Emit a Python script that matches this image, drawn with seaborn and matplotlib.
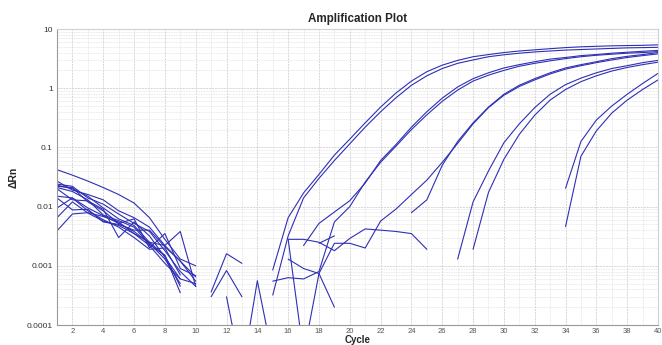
import numpy as np
import pandas as pd
import matplotlib
matplotlib.use("Agg")
import matplotlib.pyplot as plt
import seaborn as sns
from matplotlib.ticker import MultipleLocator, LogLocator, NullFormatter

nan = np.nan

# qPCR amplification data: delta Rn per cycle (1..40), nan where the value was negative
cycles = list(range(1, 41))

a1 = [0.042, 0.034, 0.027, 0.021, 0.016, 0.0115, 0.0065, 0.0028, 0.0013, 0.001] + [nan] * 4 + \
     [0.00085, 0.0065, 0.017, 0.035, 0.074, 0.138, 0.26, 0.48, 0.83, 1.32, 1.9, 2.45, 2.95,
      3.4, 3.7, 4.0, 4.25, 4.45, 4.65, 4.85, 5.0, 5.1, 5.2, 5.25, 5.3, 5.4]
a2 = [0.027, 0.019, 0.016, 0.013, 0.0085, 0.0065, 0.0045, 0.0022, 0.0012, 0.00065] + [nan] * 4 + \
     [0.00032, 0.0032, 0.014, 0.030, 0.060, 0.115, 0.22, 0.40, 0.69, 1.12, 1.62, 2.15, 2.63,
      3.0, 3.4, 3.67, 3.9, 4.1, 4.25, 4.4, 4.5, 4.6, 4.7, 4.8, 4.85, 4.9]
b1 = [0.024, 0.022, 0.014, 0.011, 0.0075, 0.0052, 0.0038, 0.0018, 0.0008, 0.00045] + [nan] * 6 + \
     [0.0022, 0.0052, 0.0081, 0.0126, 0.025, 0.06, 0.112, 0.22, 0.4, 0.68, 1.05, 1.45, 1.82,
      2.2, 2.5, 2.8, 3.1, 3.3, 3.55, 3.7, 3.9, 4.05, 4.2, 4.35]
b2 = [0.023, 0.020, 0.015, 0.0095, 0.0062, 0.0048, 0.0025, 0.0022, 0.0038, 0.00045] + [nan] * 4 + \
     [0.00055, 0.00063, 0.0006, 0.0008, 0.0055, 0.01, 0.026, 0.056, 0.105, 0.2, 0.355, 0.6, 0.93,
      1.32, 1.66, 2.0, 2.35, 2.63, 2.9, 3.16, 3.4, 3.6, 3.75, 3.9, 4.0, 4.15]
c1 = [0.015, 0.014, 0.0095, 0.0070, 0.0052, 0.0062, 0.0020, 0.0035, 0.0009, 0.00068] + [nan] * 5 + \
     [0.0028, 3.2e-5, 0.00074, 0.0024, 0.0024, 0.002, 0.0057, 0.0091, 0.016, 0.028, 0.056, 0.117,
      0.25, 0.47, 0.76, 1.07, 1.38, 1.74, 2.1, 2.4, 2.7, 3.0, 3.3, 3.55, 3.8]
c2 = [0.014, 0.0088, 0.0090, 0.0055, 0.0050, 0.0040, 0.0040, 0.0021, 0.0012, 0.00055] + [nan] * 7 + \
     [0.0024, 0.0032] + [nan] * 4 + \
     [0.0079, 0.013, 0.05, 0.126, 0.26, 0.48, 0.79, 1.12, 1.45, 1.82, 2.2, 2.5, 2.8, 3.16, 3.45, 3.7, 4.0]
d1 = [0.022, 0.021, 0.012, 0.0085, 0.0052, 0.0038, 0.0024, 0.0013, 0.0005, nan] + \
     [0.00036, 0.0016, 0.0011] + [nan] * 13 + \
     [0.0013, 0.012, 0.04, 0.12, 0.25, 0.47, 0.79, 1.15, 1.48, 1.82, 2.15, 2.4, 2.7, 2.95]
d2 = [0.021, 0.018, 0.013, 0.0072, 0.0058, 0.0045, 0.0023, 0.0015, 0.00035, nan] + \
     [0.0003, 0.00083, 0.0003] + [nan] * 14 + \
     [0.0019, 0.0174, 0.063, 0.166, 0.35, 0.63, 0.95, 1.29, 1.62, 1.95, 2.24, 2.5, 2.75]
e1 = [0.020, 0.013, 0.0125, 0.0090, 0.0030, 0.0055, 0.0032, 0.0014, 0.0006, nan] + \
     [nan, 0.0003, 1.5e-5, 0.00056, 2.8e-5] + [nan] * 18 + \
     [0.0204, 0.126, 0.29, 0.5, 0.79, 1.2, 1.78]
e2 = [0.0095, 0.0140, 0.0085, 0.0060, 0.0045, 0.0030, 0.0019, 0.0020, 0.0007, nan] + [nan] * 23 + \
     [0.0046, 0.071, 0.19, 0.38, 0.63, 0.95, 1.38]
n1 = [0.0065, 0.0120, 0.0078, 0.0057, 0.0048, 0.0035, 0.0025, 0.0015, 0.00045, nan] + [nan] * 5 + \
     [0.0028, 0.0028, 0.0025, 0.0018, 0.0029, 0.0042, 0.0040, 0.0038, 0.0035, 0.0019] + [nan] * 15
n2 = [0.0039, 0.0075, 0.0079, 0.0068, 0.0055, 0.0035, 0.0022, 0.0011, 0.0006, 0.0005] + [nan] * 5 + \
     [0.0013, 0.0009, 0.00074, 0.0002] + [nan] * 21

wells = {"A1": a1, "A2": a2, "B1": b1, "B2": b2, "C1": c1, "C2": c2,
         "D1": d1, "D2": d2, "E1": e1, "E2": e2, "N1": n1, "N2": n2}

y_ticks = [1e-4, 1e-3, 1e-2, 1e-1, 1, 10]
y_labels = ["0.0001", "0.001", "0.01", "0.1", "1", "10"]
x_ticks = list(range(2, 41, 2))

# split each well into runs of positive values so gaps stay gaps
rows = []
for name, vals in wells.items():
    seg = 0
    for c, v in zip(cycles, vals):
        if np.isnan(v):
            seg += 1
            continue
        rows.append((name, f"{name}-{seg}", c, v))
df = pd.DataFrame(rows, columns=["well", "segment", "cycle", "drn"])

sns.set_style("white")
plt.rcParams["font.family"] = ["Liberation Sans", "DejaVu Sans"]

fig = plt.figure(figsize=(6.62, 3.45), dpi=100)
ax = fig.add_axes([57 / 662, 1 - 325 / 345, 601 / 662, 296 / 345])

sns.lineplot(data=df, x="cycle", y="drn", units="segment", estimator=None,
             color="#2f2fb4", lw=0.8, ax=ax, legend=False)

ax.set_yscale("log")
ax.set_xlim(1, 40)
ax.set_ylim(1e-4, 10)
ax.set_xticks(x_ticks)
ax.xaxis.set_minor_locator(MultipleLocator(1))
ax.set_yticks(y_ticks, labels=y_labels)
ax.yaxis.set_minor_locator(LogLocator(base=10, subs=np.arange(2, 10)))
ax.yaxis.set_minor_formatter(NullFormatter())
ax.tick_params(which="both", length=0)
ax.tick_params(axis="y", labelsize=6, colors="#333333", pad=3)
ax.tick_params(axis="x", labelsize=5.5, colors="#555555", pad=2.5)

ax.grid(which="major", color="#d6d6d6", ls=(0, (2, 1)), lw=0.7)
ax.grid(which="minor", color="#e2e2e2", ls=(0, (1, 1)), lw=0.6)
ax.set_axisbelow(True)

for side in ["left", "bottom"]:
    ax.spines[side].set_color("#999999")
    ax.spines[side].set_linewidth(0.8)
for side in ["top", "right"]:
    ax.spines[side].set_color("#d0d0d0")
    ax.spines[side].set_linewidth(0.8)

ax.set_title("Amplification Plot", fontsize=8.4, fontweight="bold", pad=5)
ax.set_xlabel("Cycle", fontsize=7, fontweight="bold", labelpad=0)
ax.set_ylabel("ΔRn", fontsize=7.5, fontweight="bold", labelpad=6)

fig.savefig("out.png", dpi=100)
